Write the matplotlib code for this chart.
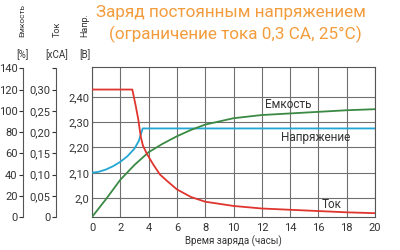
import matplotlib
matplotlib.use("Agg")
import matplotlib.pyplot as plt
from matplotlib.ticker import FixedLocator, FixedFormatter

plt.rcParams['font.family'] = ['Roboto', 'DejaVu Sans']

# Data
volt_t = [0, 0.5, 1, 1.5, 2, 2.5, 3, 3.3, 3.45, 3.58, 20]
volt_v = [2.10, 2.104, 2.113, 2.126, 2.143, 2.165, 2.195, 2.225, 2.250, 2.275, 2.275]

cur_t = [0, 2.85, 3.1, 3.27, 3.44, 3.6, 3.86, 4.3, 4.8, 5.3, 6, 7, 8, 10, 12, 14, 16, 18, 20]
cur_v = [0.30, 0.30, 0.26, 0.23, 0.19, 0.168, 0.15, 0.125, 0.10, 0.085, 0.065, 0.047,
         0.036, 0.026, 0.020, 0.017, 0.014, 0.011, 0.009]

cap_t = [0, 1, 2, 3, 4, 5, 6, 7, 8, 10, 12, 14, 16, 18, 20]
cap_v = [0, 17, 35, 49, 61, 69, 76, 82, 87, 93, 96, 97.5, 99, 100.5, 101.5]

x_ticks = [0, 2, 4, 6, 8, 10, 12, 14, 16, 18, 20]
v_ticks = [2.0, 2.1, 2.2, 2.3, 2.4]
v_labels = ["2,0", "2,10", "2,20", "2,30", "2,40"]
cap_ticks = [0, 20, 40, 60, 80, 100, 120, 140]
cur_ticks = [0, 0.05, 0.10, 0.15, 0.20, 0.25, 0.30, 0.35]
cur_labels = ["0", "0,05", "0,10", "0,15", "0,20", "0,25", "0,30", ""]

title1 = "Заряд постоянным напряжением"
title2 = "(ограничение тока 0,3 CA, 25°C)"

RED = "#e0352e"
BLUE = "#22a6d4"
GREEN = "#3a8a44"
ORANGE = "#f39c3c"
TXT = "#333333"
GRID = "#707070"

fig = plt.figure(figsize=(4, 2.5), dpi=100)
ax = fig.add_axes([92/400, 33/250, 283/400, 150.3/250])

ax.set_xlim(0, 20)
ax.set_ylim(1.925, 2.519)
ax.set_xticks(x_ticks)
ax.set_xticklabels([str(t) for t in x_ticks])
ax.yaxis.set_major_locator(FixedLocator(v_ticks))
ax.yaxis.set_major_formatter(FixedFormatter(v_labels))
ax.tick_params(axis='both', length=0, labelsize=8, colors=TXT, pad=2)
ax.tick_params(axis='x', pad=4)
ax.grid(True, color=GRID, linewidth=0.8)
for s in ax.spines.values():
    s.set_color("#555555")
    s.set_linewidth(0.8)
ax.set_xlabel("Время заряда (часы)", fontsize=7, color=TXT, labelpad=2)

# capacity axis
axc = ax.twinx()
axc.set_ylim(0, 141.5)
axc.yaxis.set_ticks_position('left')
axc.spines['left'].set_position(('outward', 69 * 0.72))
axc.spines['left'].set_bounds(0, 140)
for k in ['right', 'top', 'bottom']:
    axc.spines[k].set_visible(False)
axc.spines['left'].set_color("#555555")
axc.spines['left'].set_linewidth(0.8)
axc.set_yticks(cap_ticks)
axc.set_yticklabels([str(c) for c in cap_ticks])
axc.tick_params(axis='y', length=3, width=0.8, labelsize=8, colors=TXT, pad=1)

# current axis
axi = ax.twinx()
axi.set_ylim(0, 141.5 / 400)
axi.yaxis.set_ticks_position('left')
axi.spines['left'].set_position(('outward', 36 * 0.72))
axi.spines['left'].set_bounds(0, 0.35)
for k in ['right', 'top', 'bottom']:
    axi.spines[k].set_visible(False)
axi.spines['left'].set_color("#555555")
axi.spines['left'].set_linewidth(0.8)
axi.set_yticks(cur_ticks)
axi.set_yticklabels(cur_labels)
axi.tick_params(axis='y', length=3, width=0.8, labelsize=8, colors=TXT, pad=1)

# curves
ax.plot(volt_t, volt_v, color=BLUE, linewidth=1.3, zorder=5)
axi.plot(cur_t, cur_v, color=RED, linewidth=1.3, zorder=5)
axc.plot(cap_t, cap_v, color=GREEN, linewidth=1.3, zorder=5)

# curve labels
fig.text(265/400, 1 - 105/250, "Емкость", fontsize=8.5, color=TXT, va='center', ha='left')
fig.text(281/400, 1 - 137/250, "Напряжение", fontsize=8.5, color=TXT, va='center', ha='left')
fig.text(322/400, 1 - 205/250, "Ток", fontsize=8.5, color=TXT, va='center', ha='left')

# headers
fig.text(22/400, 1 - 37/250, "Емкость", rotation=90, fontsize=6, color=TXT, ha='center', va='bottom')
fig.text(57/400, 1 - 37/250, "Ток", rotation=90, fontsize=6.5, color=TXT, ha='center', va='bottom')
fig.text(85/400, 1 - 37/250, "Напр.", rotation=90, fontsize=6.5, color=TXT, ha='center', va='bottom')
fig.text(22/400, 1 - 55/250, "[%]", fontsize=7, color=TXT, ha='center', va='center')
fig.text(57/400, 1 - 55/250, "[xCA]", fontsize=7, color=TXT, ha='center', va='center')
fig.text(85/400, 1 - 55/250, "[B]", fontsize=7, color=TXT, ha='center', va='center')

# title
fig.text(231/400, 1 - 13/250, title1, fontsize=12.3, color=ORANGE, ha='center', va='center')
fig.text(235/400, 1 - 34/250, title2, fontsize=12.3, color=ORANGE, ha='center', va='center')

fig.savefig("out.png", dpi=100)
